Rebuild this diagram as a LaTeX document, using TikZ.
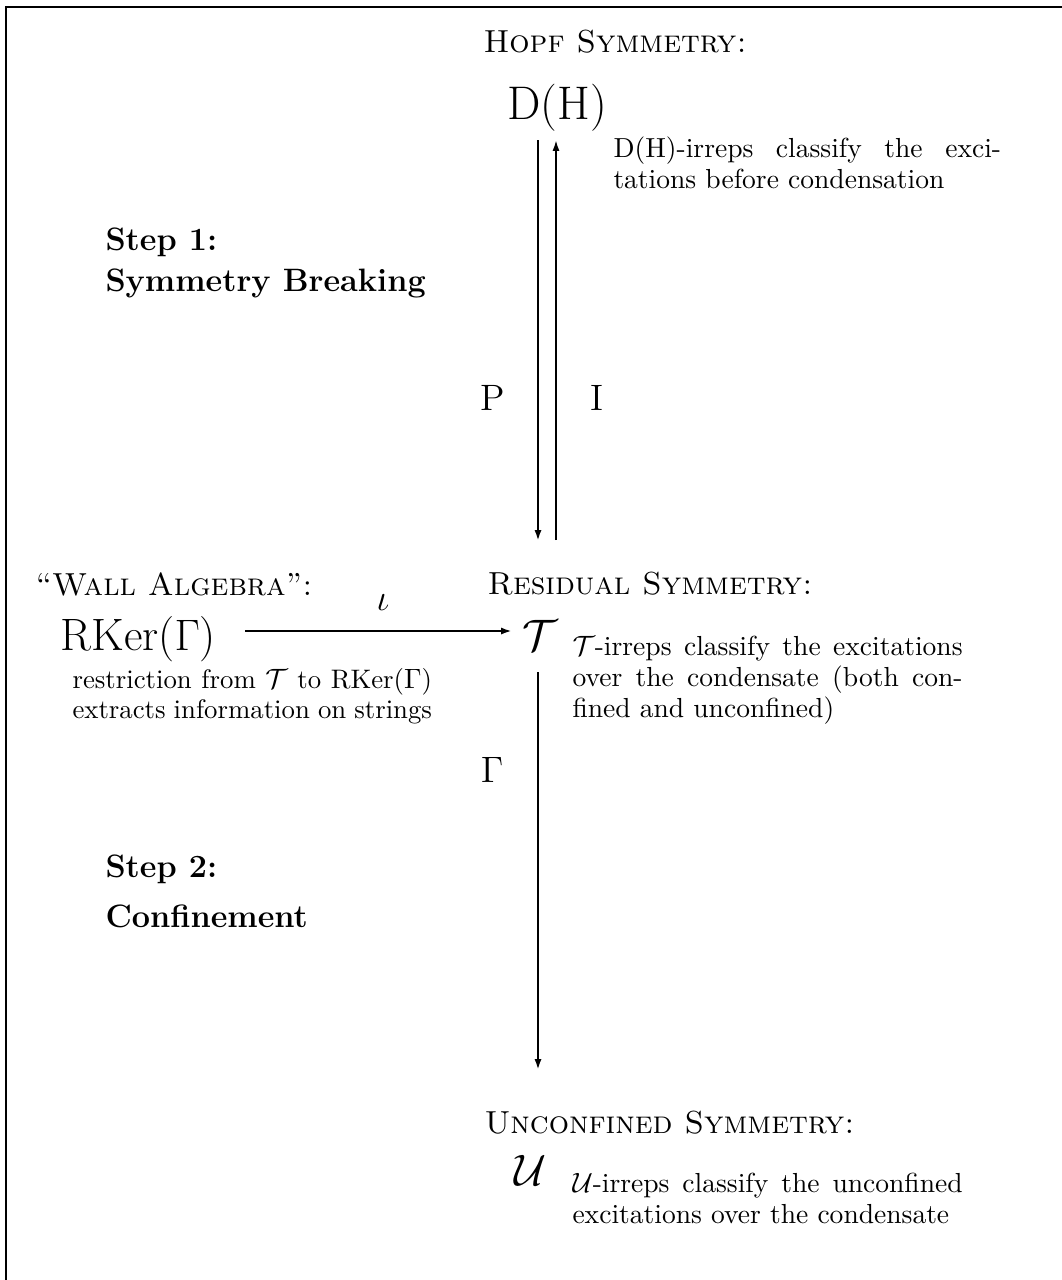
\documentclass[tikz,border=0pt]{standalone}
\usetikzlibrary{arrows.meta}
\begin{document}
\begin{tikzpicture}[x=0.39216pt,y=-0.39216pt,
  txt/.style={inner sep=0pt,anchor=base west},
  head/.style={txt,font=\fontsize{12.5}{15}\selectfont\scshape},
  desc/.style={txt,font=\fontsize{10.8}{12.3}\selectfont},
  stepf/.style={txt,font=\fontsize{12.7}{15.7}\selectfont\bfseries},
  big/.style={inner sep=0pt,font=\fontsize{18.5}{22}\selectfont},
  lbl/.style={inner sep=0pt,font=\Large},
  arr/.style={-{Latex[length=4.3pt,width=2.8pt]}},
  thickarr/.style={arr,line width=1.15pt},
  thinarr/.style={arr,line width=0.75pt}]
\useasboundingbox (0,0) rectangle (1062,1280);
\draw[line width=1pt] (6,1280) -- (6,7) -- (1062,7);

% top
\node[head] (hopf) at (483,52) {Hopf Symmetry:};
\node[big,anchor=base] (DH) at (557,119) {D(H)};
\node[desc] (dhdesc) at (613,157) {\parbox[t]{152pt}{D(H)-irreps classify the exci-\linebreak tations before condensation}};

\node[stepf] (step1a) at (105,250) {Step 1:};
\node[stepf] (step1b) at (105,291) {Symmetry Breaking};

\coordinate (Ptop) at (538,140);
\coordinate (Pbot) at (538,541);
\coordinate (Itop) at (556,140);
\coordinate (Ibot) at (556,540);
\draw[thickarr] (Ptop) -- (Pbot);
\draw[thinarr] (Ibot) -- (Itop);
\node[lbl] (P) at (493,398) {P};
\node[lbl] (I) at (597,398) {I};

% middle
\node[head] (resid) at (487,594) {Residual Symmetry:};
\node[big,anchor=base,font=\fontsize{19}{22}\selectfont] (T) at (540,650) {$\mathcal{T}$};
\node[desc] (tdesc) at (572,655) {\parbox[t]{153pt}{$\mathcal{T}$-irreps classify the excitations\linebreak over the condensate (both con-\linebreak fined and unconfined)}};

\node[head] (wall) at (35,595) {``Wall Algebra'':};
\node[txt,font=\fontsize{17.8}{21}\selectfont] (RK) at (60,650) {RKer($\Gamma$)};
\node[txt,font=\fontsize{10.5}{12}\selectfont] (rkdesc) at (72,688) {\parbox[t]{141pt}{restriction from $\mathcal{T}$ to RKer($\Gamma$)\linebreak extracts information on strings}};

\coordinate (ia) at (245,631);
\coordinate (ib) at (512,631);
\draw[arr,line width=0.9pt] (ia) -- (ib);
\node[inner sep=0pt,font=\Large] (iota) at (383,603) {$\iota$};

\coordinate (Gtop) at (538,672);
\coordinate (Gbot) at (538,1070);
\draw[thickarr] (Gtop) -- (Gbot);
\node[lbl] (G) at (492,770) {$\Gamma$};

\node[stepf] (step2a) at (105,877) {Step 2:};
\node[stepf] (step2b) at (105,927) {Confinement};

% bottom
\node[head] (unconf) at (484,1133) {Unconfined Symmetry:};
\node[big,anchor=base,font=\fontsize{19}{22}\selectfont] (U) at (530,1185) {$\mathcal{U}$};
\node[desc] (udesc) at (572,1192) {\parbox[t]{153pt}{$\mathcal{U}$-irreps classify the unconfined\linebreak excitations over the condensate}};
\end{tikzpicture}
\end{document}
